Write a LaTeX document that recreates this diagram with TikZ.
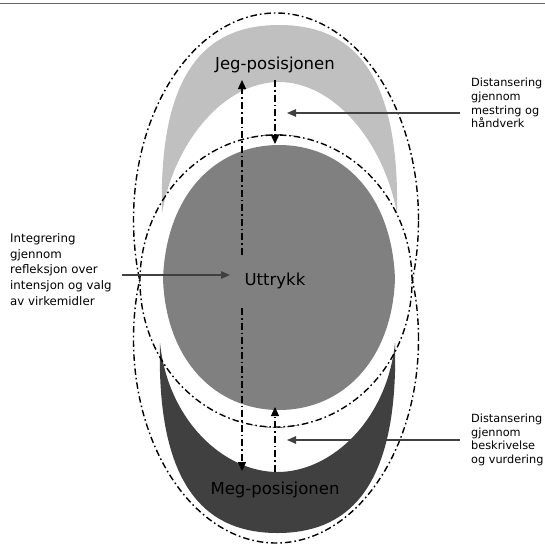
\documentclass[tikz,border=0pt]{standalone}
\usepackage{fontspec}
\setmainfont{DejaVu Sans}
\usetikzlibrary{arrows.meta}
\definecolor{lightg}{HTML}{C0C0C0}
\definecolor{midg}{HTML}{808080}
\definecolor{darkg}{HTML}{404040}
\definecolor{lineg}{HTML}{404040}
\tikzset{
  dashdot/.style={line width=1.4pt, dash pattern=on 6.5pt off 3pt on 1.6pt off 3pt},
  varrow/.style={line width=1.3pt, dash pattern=on 7pt off 3pt on 1.6pt off 3pt, -{Triangle[length=9pt,width=8pt]}},
  harrow/.style={line width=1.2pt, draw=lineg, -{Triangle[length=9pt,width=7.5pt]}},
  biglabel/.style={font=\fontsize{16.5}{19}\selectfont, inner sep=0pt},
  smalllabel/.style={font=\fontsize{11.3}{13.6}\selectfont, align=left, inner sep=0pt, anchor=west},
  leftlabel/.style={font=\fontsize{11.8}{15.7}\selectfont, align=left, inner sep=0pt, anchor=west}
}
\begin{document}
\begin{tikzpicture}[x=1pt,y=-1pt]
\useasboundingbox (0,0) rectangle (545,547);
% top rule
\draw[line width=1.3pt, draw=lineg!80] (0,3.7) -- (545,3.7);
% outer dash-dot ellipses
\draw[dashdot] (276,220) ellipse [x radius=142.5pt, y radius=207pt];
\draw[dashdot] (276,339) ellipse [x radius=142.5pt, y radius=204pt];
% middle white fill
\fill[white] (276,281) ellipse [x radius=136pt, y radius=146pt];
% Jeg crescent
\fill[lightg] (162,213) .. controls (158,60) and (215,25) .. (279,25)
  .. controls (343,25) and (400,60) .. (397,213)
  .. controls (383,140) and (333,82) .. (279,82)
  .. controls (225,82) and (175,140) .. (162,213) -- cycle;
% Meg crescent
\fill[darkg] (160,343) .. controls (156,496) and (213,533) .. (277.5,533)
  .. controls (342,533) and (399,496) .. (395,343)
  .. controls (387,420) and (331.5,472) .. (277.5,472)
  .. controls (223.5,472) and (168,420) .. (160,343) -- cycle;
% Uttrykk lens
\fill[midg] (163,279) .. controls (166,195) and (215,145) .. (279,145)
  .. controls (343,145) and (392,195) .. (395,279)
  .. controls (392,360) and (343,410) .. (279,410)
  .. controls (215,410) and (166,360) .. (163,279) -- cycle;
% middle dash-dot ellipse
\draw[dashdot] (276,281) ellipse [x radius=136pt, y radius=146pt];
% labels
\node[biglabel] (jeg) at (275,65) {Jeg-posisjonen};
\node[biglabel] (utt) at (275,281) {Uttrykk};
\node[biglabel] (meg) at (275,490) {Meg-posisjonen};
\node[smalllabel] (d1) at (471,103) {Distansering\\gjennom\\mestring og\\håndverk};
\node[smalllabel] (d2) at (471,440) {Distansering\\gjennom\\beskrivelse\\og vurdering};
\node[leftlabel] (integ) at (10,269.5) {Integrering\\gjennom\\refleksjon over\\intensjon og valg\\av virkemidler};
% arrow end coordinates
\coordinate (lu0) at (242,255);
\coordinate (lu1) at (242,80);
\coordinate (ld0) at (242,308);
\coordinate (ld1) at (242,471);
\coordinate (rd0) at (275,80);
\coordinate (rd1) at (275,144);
\coordinate (ru0) at (275,472);
\coordinate (ru1) at (275,407);
\coordinate (h1a) at (460,113);
\coordinate (h1b) at (287,113);
\coordinate (h2a) at (460,440);
\coordinate (h2b) at (287,440);
\coordinate (hla) at (122,275);
\coordinate (hlb) at (230,275);
% arrows
\draw[varrow] (lu0) -- (lu1);
\draw[varrow] (ld0) -- (ld1);
\draw[varrow] (rd0) -- (rd1);
\draw[varrow] (ru0) -- (ru1);
\draw[harrow] (h1a) -- (h1b);
\draw[harrow] (h2a) -- (h2b);
\draw[harrow] (hla) -- (hlb);
\end{tikzpicture}
\end{document}
